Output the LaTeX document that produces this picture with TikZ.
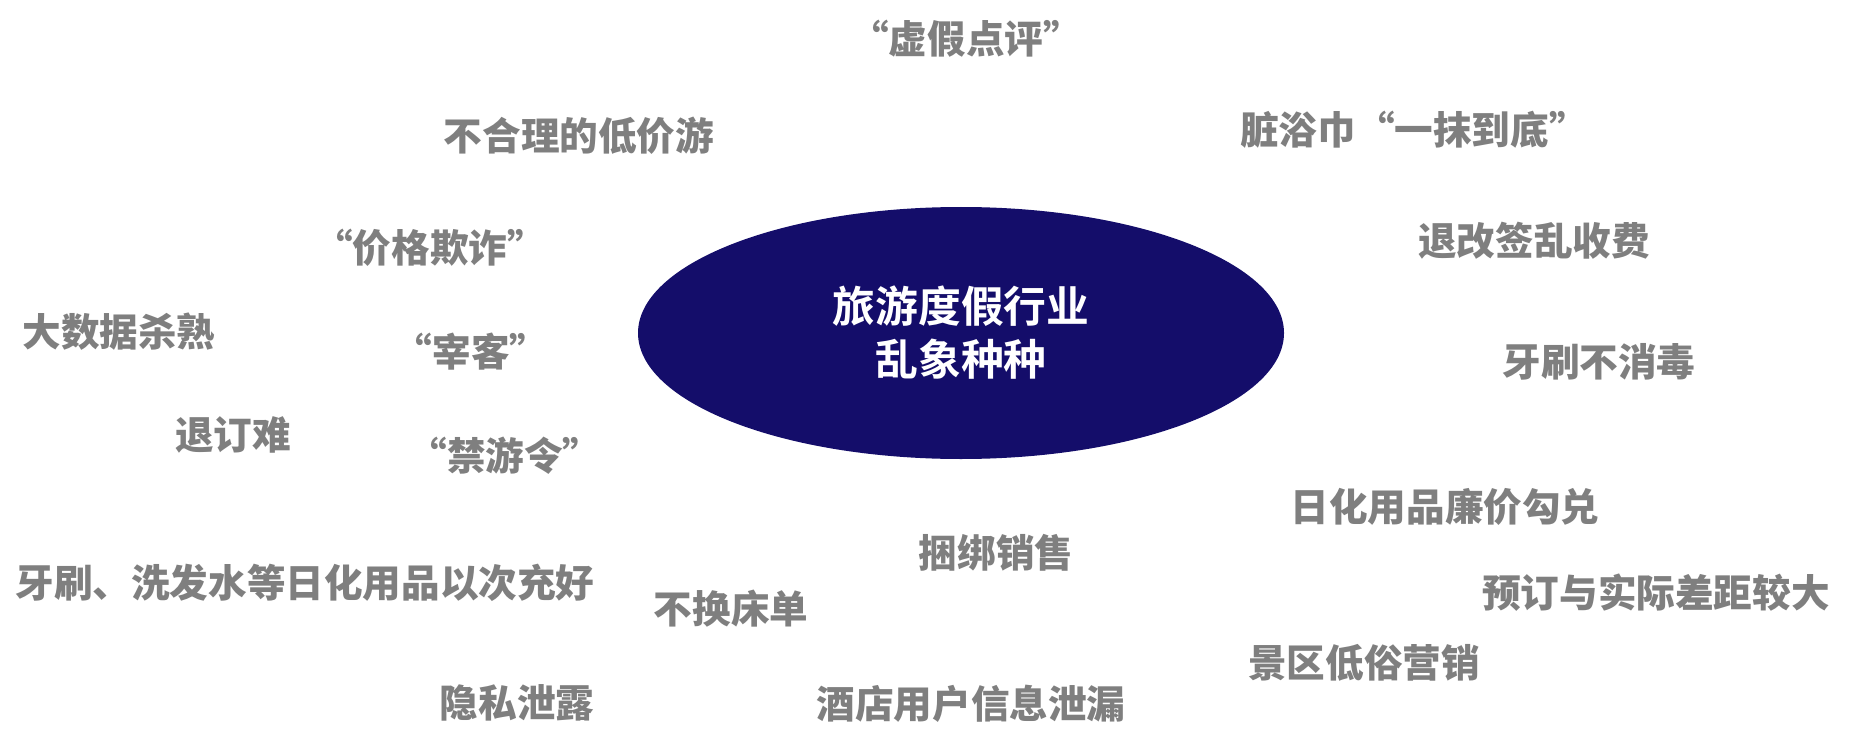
\documentclass[tikz,border=0pt]{standalone}
\usepackage{fontspec}
\usetikzlibrary{shapes.geometric}
\newfontfamily\cjkb{Noto Sans CJK SC}[UprightFont=* Bold]
\newfontfamily\cjkh{Noto Sans CJK SC}[UprightFont=* Black]
\definecolor{navy}{RGB}{20,13,106}
\definecolor{txtgray}{RGB}{127,127,127}
\begin{document}
\begin{tikzpicture}[x=1pt,y=-1pt,
  lbl/.style={text=txtgray, font=\cjkh\fontsize{38.6}{46}\selectfont, inner sep=0pt, anchor=center},
  hubstyle/.style={ellipse, fill=navy, minimum width=646pt, minimum height=252pt, inner sep=0pt,
    text=white, align=center, font=\cjkb\fontsize{42.8}{53}\selectfont}]
\useasboundingbox (0,0) rectangle (1849,738);
\node[hubstyle] (hub) at (961,333) {旅游度假行业\\乱象种种};
\node[lbl] (t1) at (966,39) {“虚假点评”};
\node[lbl] (t2) at (579,136) {不合理的低价游};
\node[lbl] (t3) at (1414,130) {脏浴巾“一抹到底”};
\node[lbl] (t4) at (430,248) {“价格欺诈”};
\node[lbl] (t5) at (1534,241) {退改签乱收费};
\node[lbl] (t6) at (119,332) {大数据杀熟};
\node[lbl] (t7) at (471,352) {“宰客”};
\node[lbl] (t8) at (1599,362) {牙刷不消毒};
\node[lbl] (t9) at (233,435) {退订难};
\node[lbl] (t10) at (505,456) {“禁游令”};
\node[lbl] (t11) at (1445,507) {日化用品廉价勾兑};
\node[lbl] (t12) at (996,553) {捆绑销售};
\node[lbl] (t13) at (305,583) {牙刷、洗发水等日化用品以次充好};
\node[lbl] (t14) at (1656,593) {预订与实际差距较大};
\node[lbl] (t15) at (731,609) {不换床单};
\node[lbl] (t16) at (1364,663) {景区低俗营销};
\node[lbl] (t17) at (517,703) {隐私泄露};
\node[lbl] (t18) at (971,704) {酒店用户信息泄漏};
\end{tikzpicture}
\end{document}
